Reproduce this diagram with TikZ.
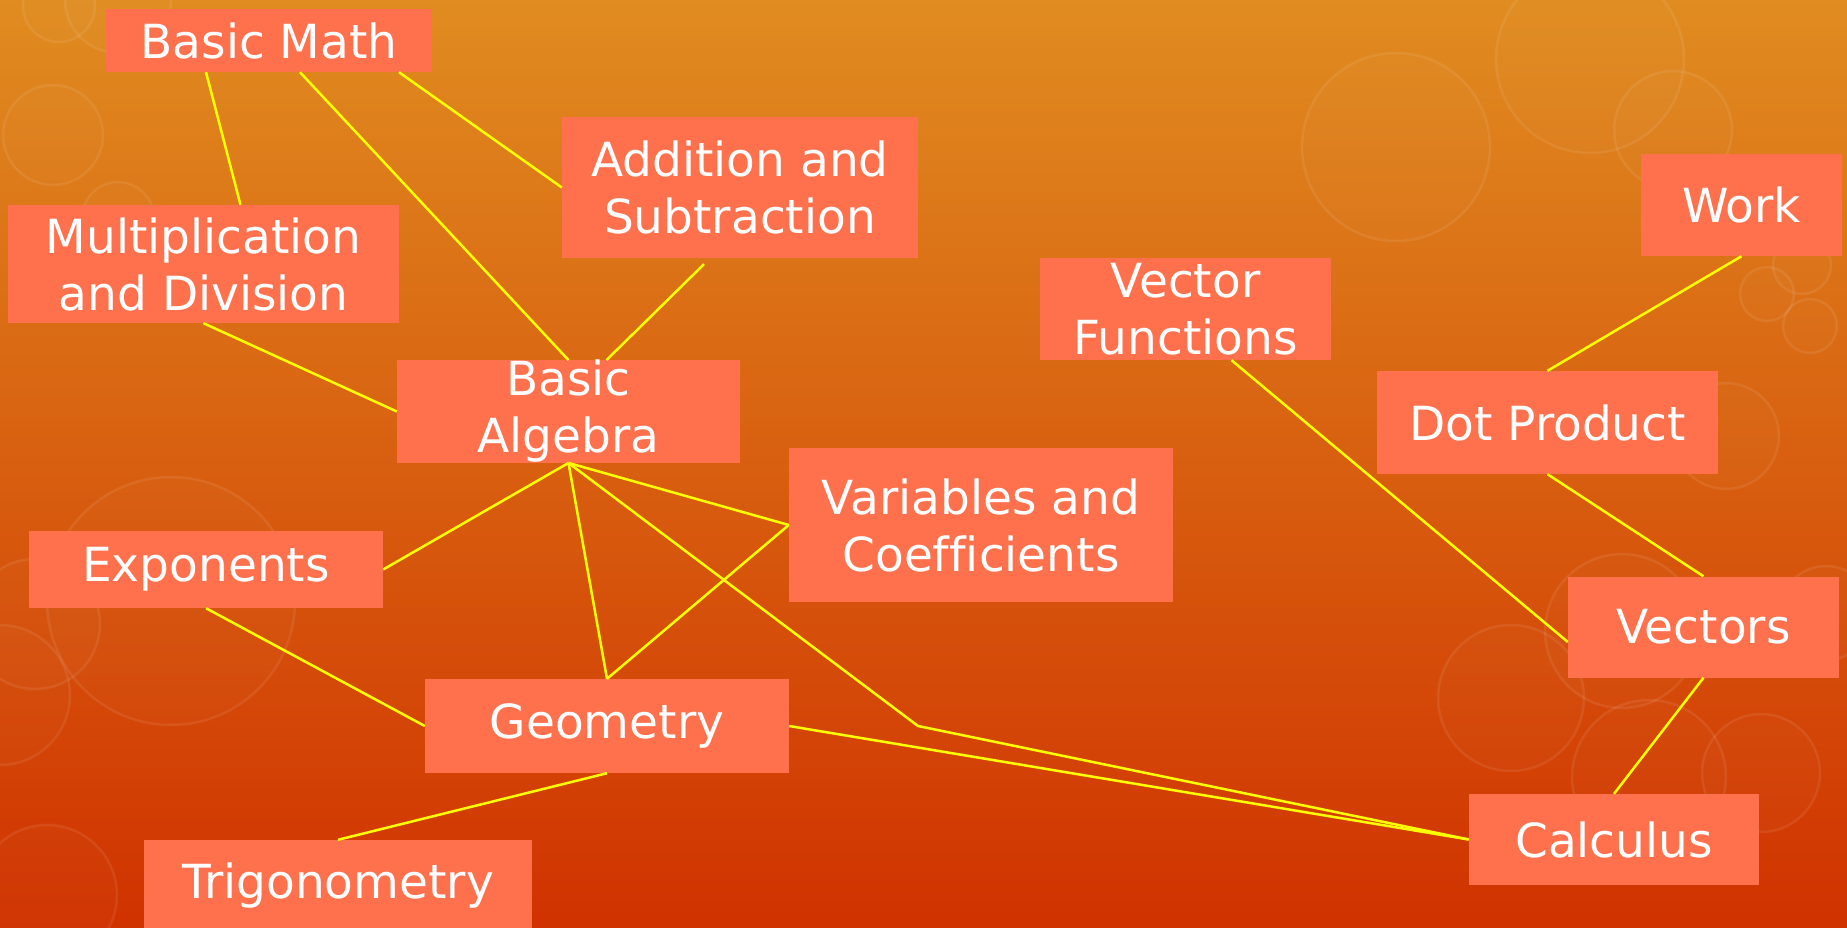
\documentclass[tikz,border=0pt]{standalone}
\usepackage{fontspec}
\setmainfont[Ligatures=NoCommon]{DejaVu Sans}
\usetikzlibrary{calc}

\definecolor{boxfill}{RGB}{255,112,77}
\definecolor{linkyellow}{RGB}{255,255,0}
\definecolor{bgtop}{RGB}{224,140,32}
\definecolor{bgbottom}{RGB}{208,50,0}

\begin{document}
\begin{tikzpicture}[
  x=1pt, y=-1pt,
  topic/.style={
    rectangle,
    fill=boxfill,
    text=white,
    align=center,
    inner sep=0pt,
    font=\fontsize{47}{57}\selectfont
  },
  link/.style={draw=linkyellow, line width=2.5pt},
  bokeh/.style={draw=white, draw opacity=0.08, line width=2.5pt, fill=white, fill opacity=0.02}
]
% background
\useasboundingbox (0,0) rectangle (1847,927);
\shade[top color=bgtop, bottom color=bgbottom] (0,0) rectangle (1847,927);
\foreach \cx/\cy/\r in {53/135/50, 118/218/36, 59/6/36, 118/0/53, 171/601/124,
    35/624/65, 0/695/70, 47/895/70, 1396/147/94, 1590/59/94, 1673/130/59,
    1726/436/53, 1767/294/27, 1810/326/27, 1802/265/29, 1622/631/77,
    1511/698/73, 1649/777/77, 1761/773/59, 1826/613/47}
  \draw[bokeh] (\cx,\cy) circle[radius=\r];

% topics
\node[topic, minimum width=326pt, minimum height=63pt]  (bmath) at (269,40.5)   {Basic Math};
\node[topic, minimum width=356pt, minimum height=141pt] (addsub) at (740,187.5) {Addition and\\Subtraction};
\node[topic, minimum width=391pt, minimum height=118pt] (multdiv) at (203.5,264) {Multiplication\\and Division};
\node[topic, minimum width=343pt, minimum height=93pt]  (algebra) at (568.5,411.5) {Basic\\Algebra};
\node[topic, minimum width=291pt, minimum height=102pt] (vecfun) at (1185.5,309) {Vector\\Functions};
\node[topic, minimum width=201pt, minimum height=102pt] (work) at (1741.5,205)  {Work};
\node[topic, minimum width=341pt, minimum height=103pt] (dotprod) at (1547.5,422.5) {Dot Product};
\node[topic, minimum width=384pt, minimum height=154pt] (varcoef) at (981,525)  {Variables and\\Coefficients};
\node[topic, minimum width=354pt, minimum height=77pt]  (expo) at (206,569.5)   {Exponents};
\node[topic, minimum width=271pt, minimum height=101pt] (vectors) at (1703.5,627) {Vectors};
\node[topic, minimum width=364pt, minimum height=94pt]  (geom) at (607,726)     {Geometry};
\node[topic, minimum width=388pt, minimum height=92pt]  (trig) at (338,886)     {Trigonometry};
\node[topic, minimum width=290pt, minimum height=91pt]  (calc) at (1614,839.5)  {Calculus};

\coordinate (bend) at (918,726);

% links
\draw[link] ([xshift=-63pt]bmath.south) -- ([xshift=37pt]multdiv.north);
\draw[link] ([xshift=31pt]bmath.south) -- (algebra.north);
\draw[link] ([xshift=130pt]bmath.south) -- (addsub.west);
\draw[link] ([xshift=-36pt,yshift=-6pt]addsub.south) -- ([xshift=38pt]algebra.north);
\draw[link] (multdiv.south) -- (algebra.west);
\draw[link] (algebra.south) -- (expo.east);
\draw[link] (algebra.south) -- (varcoef.west);
\draw[link] (algebra.south) -- (geom.north);
\draw[link] (algebra.south) -- (bend) -- (calc.west);
\draw[link] (varcoef.west) -- (geom.north);
\draw[link] (expo.south) -- (geom.west);
\draw[link] (geom.south) -- (trig.north);
\draw[link] (geom.east) -- (calc.west);
\draw[link] ([xshift=46pt]vecfun.south) -- ([yshift=-15pt]vectors.west);
\draw[link] (work.south) -- (dotprod.north);
\draw[link] (dotprod.south) -- (vectors.north);
\draw[link] (vectors.south) -- (calc.north);
\end{tikzpicture}
\end{document}
